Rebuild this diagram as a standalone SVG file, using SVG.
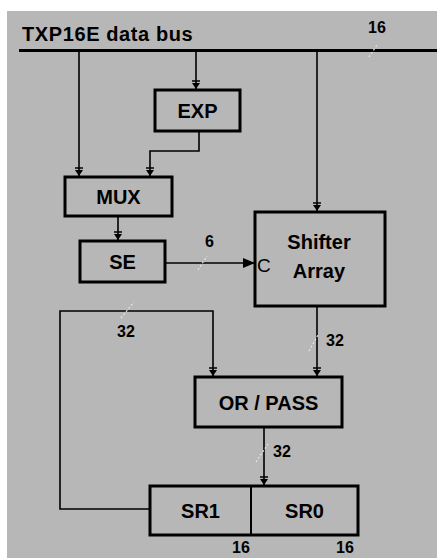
<svg xmlns="http://www.w3.org/2000/svg" width="437" height="558" viewBox="0 0 437 558">
<style>
.bg{fill:#b7b7b7}
.box{fill:none;stroke:#000;stroke-width:3}
.ln{fill:none;stroke:#000;stroke-width:1.6}
.tk{fill:none;stroke:#e6e6e6;stroke-width:1.2;stroke-dasharray:2 2}
text{font-family:"Liberation Sans",Arial,sans-serif;font-weight:bold;fill:#000}
.lb{font-size:20px;text-anchor:middle}
.num{font-size:16px}
</style>
<defs>
<marker id="ah" viewBox="0 0 10 10" refX="9" refY="5" markerWidth="10" markerHeight="10" markerUnits="userSpaceOnUse" orient="auto">
<path d="M3,1 L3,9 L9,5 Z" fill="#000"/><path d="M1,1 L1,9" stroke="#000" stroke-width="1.5"/>
</marker>
<marker id="ar" viewBox="0 0 12 12" refX="11" refY="6" markerWidth="12" markerHeight="12" markerUnits="userSpaceOnUse" orient="auto">
<path d="M0,1 L12,6 L0,11 Z" fill="#000"/>
</marker>
</defs>
<rect class="bg" x="7" y="11" width="430" height="547"/>
<text x="22" y="41" style="font-size:20px;letter-spacing:0.6px">TXP16E data bus</text>
<line x1="19" y1="50.5" x2="437" y2="50.5" stroke="#000" stroke-width="3"/>
<text class="num" x="368" y="33">16</text>
<g id="connectors">
<path class="ln" d="M79,50 V176" marker-end="url(#ah)"/>
<path class="ln" d="M196,50 V89" marker-end="url(#ah)"/>
<path class="ln" d="M317,50 V211" marker-end="url(#ah)"/>
<path class="ln" d="M199,132 V151 H150 V176" marker-end="url(#ah)"/>
<path class="ln" d="M118,217 V240" marker-end="url(#ah)"/>
<path class="ln" d="M165,263 H254" marker-end="url(#ar)"/>
<path class="ln" d="M317,307 V376" marker-end="url(#ah)"/>
<path class="ln" d="M150,509 H60 V311 H213 V376" marker-end="url(#ah)"/>
<path class="ln" d="M264,428 V485" marker-end="url(#ah)"/>
<path class="tk" d="M369,57 L377,45"/>
<path class="tk" d="M198,270 L207,256"/>
<path class="tk" d="M309,351 L318,335"/>
<path class="tk" d="M121,318 L134,302"/>
<path class="tk" d="M256,462 L268,444"/>
<text class="num" x="205" y="247">6</text>
<text class="num" x="326" y="346">32</text>
<text class="num" x="117" y="337">32</text>
<text class="num" x="273" y="457">32</text>
</g>
<g id="exp"><rect class="box" x="155" y="90" width="85" height="41"/><text class="lb" x="197.5" y="118">EXP</text></g>
<g id="mux"><rect class="box" x="65" y="177" width="107" height="39"/><text class="lb" x="118.5" y="204">MUX</text></g>
<g id="se"><rect class="box" x="80" y="241" width="85" height="41"/><text class="lb" x="122.5" y="269">SE</text></g>
<g id="shifter"><rect class="box" x="255" y="212" width="130" height="94"/><text class="lb" x="319" y="249">Shifter</text><text class="lb" x="319" y="278">Array</text><text x="257" y="272" style="font-size:19px;font-weight:normal">C</text></g>
<g id="orpass"><rect class="box" x="195" y="377" width="147" height="50"/><text class="lb" x="268.5" y="410">OR / PASS</text></g>
<g id="sr"><rect class="box" x="150" y="486" width="208" height="49"/><line x1="251" y1="486" x2="251" y2="535" stroke="#000" stroke-width="2"/><text class="lb" x="200.5" y="518">SR1</text><text class="lb" x="304.5" y="518">SR0</text><text class="num" x="232" y="553">16</text><text class="num" x="336" y="553">16</text></g>
</svg>
